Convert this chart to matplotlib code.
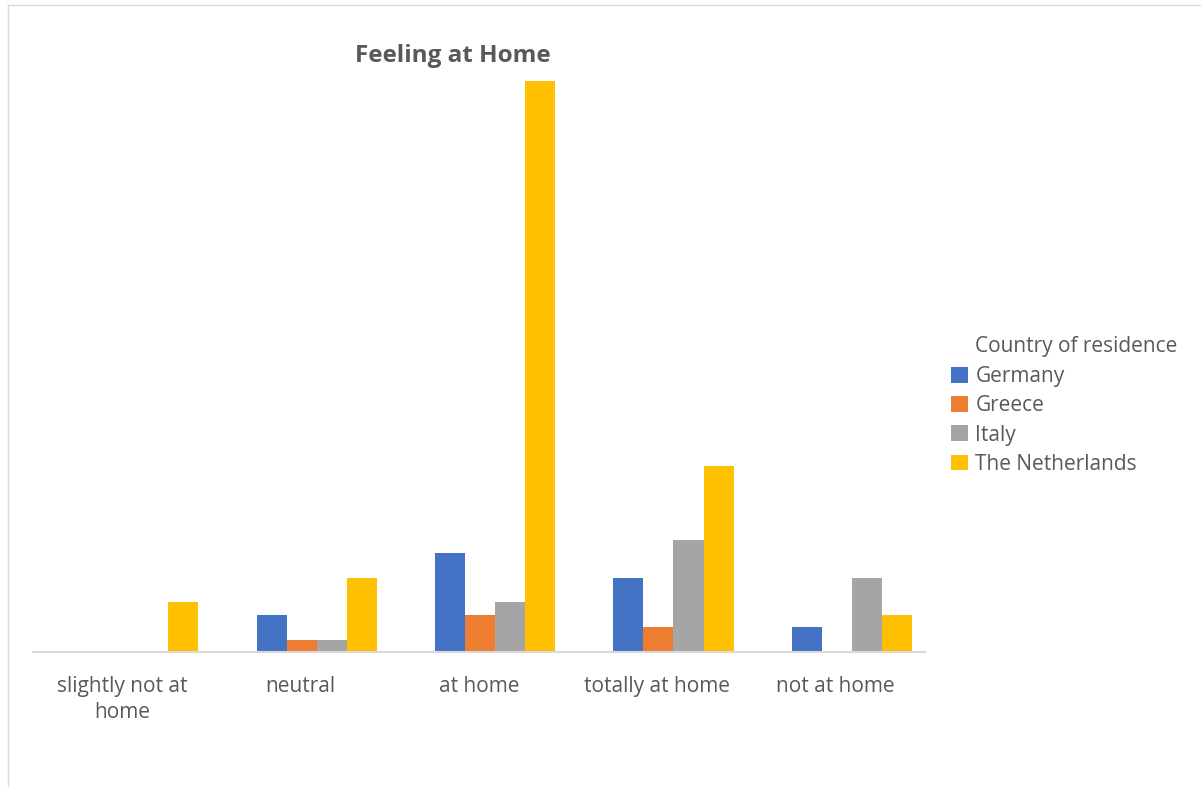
import matplotlib
matplotlib.use('Agg')
import matplotlib.pyplot as plt
import numpy as np

categories = ['slightly not at\nhome', 'neutral', 'at home', 'totally at home', 'not at home']
countries = ['Germany', 'Greece', 'Italy', 'The Netherlands']
germany = [0, 3, 8, 6, 2]
greece = [0, 1, 3, 2, 0]
italy = [0, 1, 4, 9, 6]
netherlands = [4, 6, 46, 15, 3]

COLORS = ['#4472c4', '#ed7d31', '#a5a5a5', '#ffc000']
TEXT = '#595959'
FONT = 'Open Sans'

W, H = 1201, 787
fig = plt.figure(figsize=(W / 100, H / 100), dpi=100)
ax = fig.add_axes([33 / W, (H - 652) / H, (925 - 33) / W, (652 - 81) / H])

xs = np.arange(len(categories))
bw = 30 / 178
shift = 16 / 178  # bar groups sit a little right of the label centres
series = [germany, greece, italy, netherlands]
for i, (vals, name, col) in enumerate(zip(series, countries, COLORS)):
    ax.bar(xs + shift + (i - 1.5) * bw, vals, width=bw, color=col, label=name)

ax.set_xlim(-0.5, 4.5)
ax.set_ylim(0, 46)
for s in ('top', 'right', 'left'):
    ax.spines[s].set_visible(False)
ax.spines['bottom'].set_color('#d9d9d9')
ax.spines['bottom'].set_linewidth(1.5)
ax.set_yticks([])
ax.set_xticks(xs)
ax.set_xticklabels(categories, fontsize=15, color=TEXT, family=FONT, linespacing=1.35)
ax.tick_params(axis='x', length=0, pad=17)

fig.text(453 / W, 1 - 56 / H, 'Feeling at Home', ha='center', va='center',
         fontsize=17.5, fontweight='bold', color=TEXT, family=FONT)

# legend with the title as separate text so it lines up with the labels
leg = ax.legend(loc='upper left', bbox_to_anchor=(943 / W, 1 - 358 / H),
                bbox_transform=fig.transFigure, frameon=False,
                prop={'family': FONT, 'size': 15}, labelcolor=TEXT,
                handlelength=0.8, handleheight=0.8, handletextpad=0.35,
                labelspacing=0.39, borderaxespad=0)
fig.text(975 / W, 1 - 346 / H, 'Country of residence', ha='left', va='center',
         fontsize=15, color=TEXT, family=FONT)

# thin chart border
fig.add_artist(plt.Line2D([8 / W, 8 / W], [0, 1 - 5 / H], color='#d9d9d9', lw=1,
                          transform=fig.transFigure))
fig.add_artist(plt.Line2D([8 / W, 1], [1 - 5 / H, 1 - 5 / H], color='#d9d9d9', lw=1,
                          transform=fig.transFigure))

fig.savefig('out.png', dpi=100)
